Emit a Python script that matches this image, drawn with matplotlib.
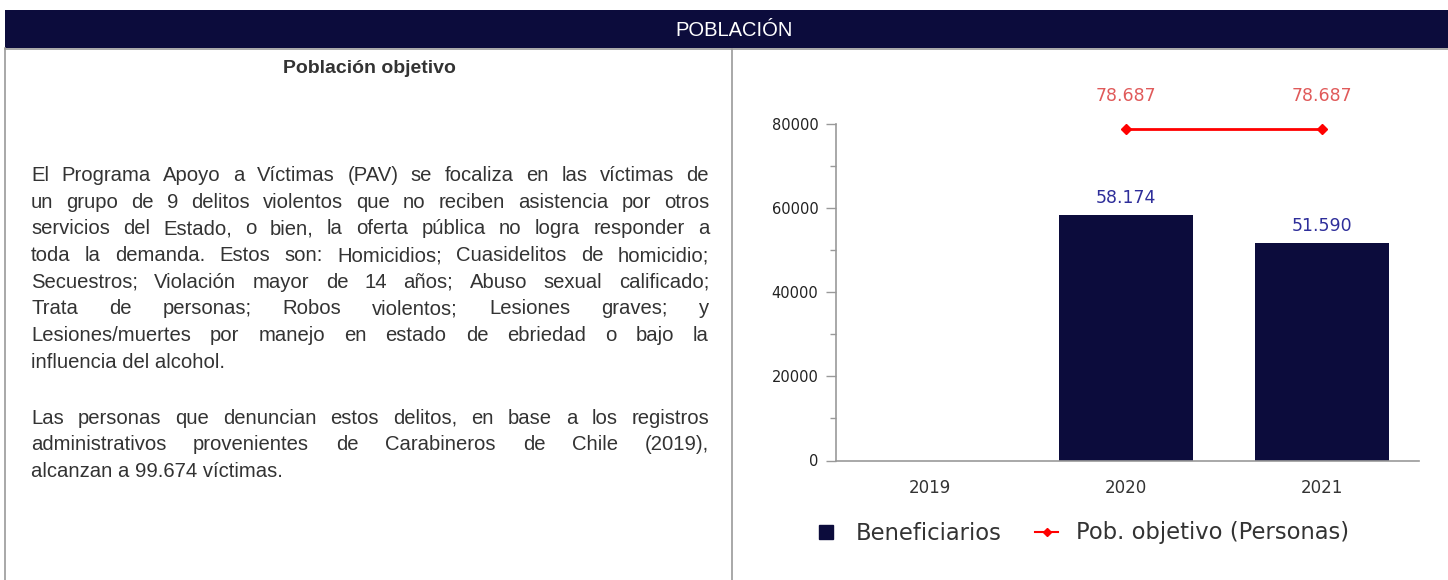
import numpy as np
import matplotlib
matplotlib.use("Agg")
import matplotlib.pyplot as plt
from matplotlib.lines import Line2D
from matplotlib.patches import Rectangle

# datos del grafico
years = ["2019", "2020", "2021"]
beneficiarios = [np.nan, 58174, 51590]
pob_objetivo = [np.nan, 78687, 78687]
y_ticks = [0, 20000, 40000, 60000, 80000]
y_minor = [10000, 30000, 50000, 70000]
legend_labels = ["Beneficiarios", "Pob. objetivo (Personas)"]

header_title = "POBLACIÓN"
panel_title = "Población objetivo"
parrafo_1 = [
    "El Programa Apoyo a Víctimas (PAV) se focaliza en las víctimas de",
    "un grupo de 9 delitos violentos que no reciben asistencia por otros",
    "servicios del Estado, o bien, la oferta pública no logra responder a",
    "toda la demanda. Estos son: Homicidios; Cuasidelitos de homicidio;",
    "Secuestros; Violación mayor de 14 años; Abuso sexual calificado;",
    "Trata de personas; Robos violentos; Lesiones graves; y",
    "Lesiones/muertes por manejo en estado de ebriedad o bajo la",
    "influencia del alcohol.",
]
parrafo_2 = [
    "Las personas que denuncian estos delitos, en base a los registros",
    "administrativos provenientes de Carabineros de Chile (2019),",
    "alcanzan a 99.674 víctimas.",
]

navy = "#0c0c3c"
text_gray = "#333333"
W, H = 1448, 580

fig = plt.figure(figsize=(W / 100, H / 100), dpi=100)


def fx(px):
    return px / W


def fy(py):
    return 1 - py / H


def fmt(v):
    return f"{v:,.0f}".replace(",", ".")


# cabecera y bordes del cuadro
fig.add_artist(Rectangle((fx(5), fy(48)), 1 - fx(5), 38 / H,
                         transform=fig.transFigure, color=navy, lw=0))
fig.text(fx(734), fy(30), header_title, color="white", fontsize=14.5,
         family="Liberation Sans", ha="center", va="center")
for xs, ys in [([5, 5], [48, 580]), ([732, 732], [49, 580]), ([5, 1448], [49, 49])]:
    fig.add_artist(Line2D([fx(v) for v in xs], [fy(v) for v in ys],
                          transform=fig.transFigure, color="#9a9a9a", lw=1.2))

fig.text(fx(369), fy(73.5), panel_title, fontsize=14, weight="bold",
         family="Liberation Sans", color=text_gray, ha="center", va="baseline")

# texto justificado
renderer = fig.canvas.get_renderer()


def put_line(line, y, justify, x0=31, x1=709, size=14.6):
    kw = dict(fontsize=size, family="Liberation Sans", color=text_gray, va="baseline")
    if not justify:
        fig.text(fx(x0), fy(y), line, **kw)
        return
    words = line.split()
    items = [fig.text(0, fy(y), w, **kw) for w in words]
    widths = [t.get_window_extent(renderer).width for t in items]
    gap = (x1 - x0 - sum(widths)) / (len(words) - 1)
    x = x0
    for t, w in zip(items, widths):
        t.set_x(fx(x))
        x += w + gap


step = 26.7
for i, line in enumerate(parrafo_1):
    put_line(line, 181 + step * i, i < len(parrafo_1) - 1)
for i, line in enumerate(parrafo_2):
    put_line(line, 423.5 + step * i, i < len(parrafo_2) - 1)

# grafico
ax = fig.add_axes([fx(836), fy(460.5), (1419 - 836) / W, (460.5 - 123.5) / H])
x = np.arange(len(years))
ax.bar(x, beneficiarios, width=0.68, color=navy, zorder=2)
ax.plot(x, pob_objetivo, color="red", lw=2, marker="D", ms=5, zorder=3)

for xi, v in zip(x, beneficiarios):
    if not np.isnan(v):
        ax.annotate(fmt(v), (xi, v), xytext=(0, 12.7), textcoords="offset points",
                    ha="center", va="center", color="#2e2e9a", fontsize=12.5)
for xi, v in zip(x, pob_objetivo):
    if not np.isnan(v):
        ax.annotate(fmt(v), (xi, v), xytext=(0, 24), textcoords="offset points",
                    ha="center", va="center", color="#e05a5a", fontsize=12.5)

ax.set_xlim(-0.48, 2.495)
ax.set_ylim(0, 80000)
ax.set_yticks(y_ticks)
ax.set_yticks(y_minor, minor=True)
ax.set_xticks(x, years)
ax.tick_params(axis="y", which="major", length=7.2, width=1, color="#999999",
               pad=5.5, labelsize=10.5, labelcolor="#222222")
ax.tick_params(axis="y", which="minor", length=4, width=1, color="#999999")
ax.tick_params(axis="x", length=0, pad=13, labelsize=12, labelcolor=text_gray)
for s in ["top", "right"]:
    ax.spines[s].set_visible(False)
for s in ["left", "bottom"]:
    ax.spines[s].set_color("#999999")
    ax.spines[s].set_linewidth(1.2)

handles = [Line2D([], [], marker="s", color=navy, ls="none", ms=10),
           Line2D([], [], marker="D", color="red", lw=1.5, ms=4)]
fig.legend(handles, legend_labels, loc="center", bbox_to_anchor=(fx(1082), fy(533)),
           ncol=2, frameon=False, fontsize=16.3, handlelength=1.0, handletextpad=0.8,
           columnspacing=1.5, labelcolor=text_gray)

fig.savefig("out.png", dpi=100)
